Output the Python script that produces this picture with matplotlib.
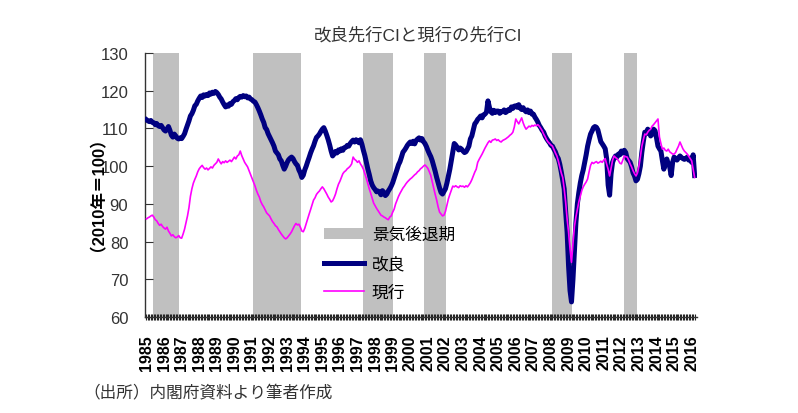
import matplotlib
matplotlib.use("Agg")
import matplotlib.pyplot as plt
from matplotlib.patches import Patch
from matplotlib.lines import Line2D
import numpy as np

plt.rcParams['font.family'] = ['Liberation Sans', 'Noto Sans CJK JP', 'DejaVu Sans']

# monthly values, 1985-01 .. 2016-03
kairyo = [
    112.3, 112.0, 111.8, 112.1, 111.6, 111.5, 111.0, 111.3, 110.7, 110.5, 110.8, 110.2,  # 1985
    109.6, 109.3, 109.8, 110.5, 109.5, 108.2, 107.7, 108.5, 108.0, 107.4, 107.2, 107.5,  # 1986
    107.3, 107.9, 108.6, 109.8, 110.9, 112.0, 113.3, 113.9, 114.8, 116.0, 116.4, 117.3,  # 1987
    118.0, 118.6, 118.2, 118.9, 118.6, 119.0, 118.7, 119.4, 119.1, 119.6, 119.3, 119.8,  # 1988
    119.5, 119.0, 118.3, 117.8, 117.0, 116.3, 115.7, 116.2, 115.9, 116.6, 116.4, 117.1,  # 1989
    117.4, 117.9, 117.6, 118.2, 118.5, 118.3, 118.7, 118.4, 118.6, 118.1, 118.3, 117.8,  # 1990
    117.6, 117.2, 117.0, 116.3, 115.5, 114.6, 113.6, 112.5, 111.6, 110.2, 109.7, 108.6,  # 1991
    107.8, 107.0, 106.2, 105.3, 104.0, 103.5, 103.0, 101.9, 101.4, 100.2, 99.2, 100.0,   # 1992
    101.0, 101.7, 102.1, 102.4, 102.0, 101.2, 100.6, 100.2, 99.0, 98.2, 97.0, 97.6,      # 1993
    99.0, 100.0, 101.2, 102.3, 103.5, 104.5, 105.4, 106.6, 107.6, 108.0, 108.5, 109.2,   # 1994
    109.8, 110.2, 109.3, 108.2, 107.0, 105.6, 104.0, 102.7, 103.2, 103.9, 103.5, 104.3,  # 1995
    104.0, 104.6, 104.2, 104.9, 105.0, 105.5, 105.3, 106.0, 106.5, 106.9, 106.4, 107.0,  # 1996
    106.6, 106.2, 107.0, 105.8, 104.2, 102.8, 101.0, 99.3, 97.8, 96.1, 95.0, 94.3,       # 1997
    93.8, 93.2, 93.4, 93.1, 92.4, 93.5, 93.0, 92.2, 92.6, 93.4, 94.0, 94.7,              # 1998
    95.6, 96.8, 98.0, 99.2, 100.4, 101.2, 102.4, 103.7, 104.2, 104.8, 105.5, 106.0,      # 1999
    106.4, 106.0, 106.6, 105.9, 106.8, 107.2, 107.5, 106.9, 107.3, 106.5, 106.0, 105.2,  # 2000
    104.2, 103.3, 102.5, 101.4, 100.0, 98.6, 97.0, 95.6, 94.2, 93.0, 92.6, 93.3,         # 2001
    94.0, 95.5, 97.3, 99.2, 101.5, 103.8, 106.0, 105.6, 105.0, 104.3, 104.8, 104.5,      # 2002
    104.0, 103.6, 103.8, 104.5, 105.3, 107.2, 108.0, 109.6, 111.2, 111.7, 112.4, 112.8,  # 2003
    113.3, 112.8, 113.6, 113.8, 114.3, 117.3, 115.6, 114.4, 114.0, 114.8, 114.2, 114.6,  # 2004
    114.6, 114.0, 114.5, 114.4, 114.9, 114.2, 114.5, 115.0, 114.8, 115.7, 115.3, 115.9,  # 2005
    116.0, 115.6, 116.3, 115.4, 115.0, 115.5, 114.8, 114.4, 114.9, 114.2, 114.6, 113.8,  # 2006
    113.8, 113.0, 112.4, 111.7, 110.8, 110.2, 109.5, 109.0, 108.0, 107.3, 106.7, 106.2,  # 2007
    105.5, 105.3, 104.5, 103.8, 102.7, 102.0, 100.5, 98.5, 96.3, 94.0, 88.0, 82.5,       # 2008
    73.5, 67.0, 64.0, 70.0, 77.5, 85.0, 90.0, 93.0, 95.5, 97.5, 99.0, 101.0,             # 2009
    103.0, 105.3, 107.0, 108.5, 109.3, 110.2, 110.5, 110.3, 109.6, 108.0, 106.5, 105.9,  # 2010
    105.3, 104.6, 101.9, 95.0, 92.3, 98.0, 101.0, 102.0, 102.7, 102.4, 103.2, 103.0,     # 2011
    104.0, 103.5, 104.2, 103.6, 102.0, 101.5, 101.0, 99.8, 98.2, 97.4, 96.1, 96.5,       # 2012
    98.0, 100.0, 103.7, 106.5, 109.0, 108.6, 109.8, 109.3, 108.0, 108.5, 109.8, 109.4,   # 2013
    107.5, 105.3, 104.6, 104.0, 101.5, 99.2, 100.5, 101.9, 100.6, 99.8, 97.5, 101.0,     # 2014
    102.4, 102.0, 101.6, 102.2, 102.7, 102.3, 102.0, 101.8, 102.0, 102.4, 101.6, 102.0,  # 2015
    101.0, 103.0, 97.5,                                                                  # 2016
]

genko = [
    86.0, 86.3, 86.5, 86.8, 87.0, 86.5, 85.8, 85.5, 84.8, 84.3, 84.6, 84.0,              # 1985
    83.6, 83.3, 83.8, 82.8, 82.2, 81.5, 81.8, 81.3, 81.0, 81.2, 81.6, 81.0,              # 1986
    80.9, 82.0, 83.3, 85.0, 86.8, 89.0, 92.0, 94.0, 95.5, 96.5, 97.4, 98.5,              # 1987
    99.3, 99.8, 100.2, 99.6, 99.2, 99.5, 99.0, 99.4, 99.8, 99.5, 100.2, 100.6,           # 1988
    101.0, 101.9, 101.2, 100.6, 101.2, 100.9, 101.4, 101.0, 101.3, 101.6, 101.2, 101.8,  # 1989
    102.4, 101.9, 102.7, 103.0, 104.0, 102.8, 101.9, 101.0, 100.4, 99.8, 98.8, 97.8,     # 1990
    96.8, 95.8, 94.8, 93.6, 92.6, 91.8, 90.6, 89.8, 89.2, 88.4, 87.6, 87.2,              # 1991
    86.8, 86.0, 85.3, 84.8, 84.2, 83.9, 83.2, 82.6, 82.0, 81.5, 81.0, 80.7,              # 1992
    81.0, 81.5, 82.0, 82.6, 83.4, 84.2, 84.8, 84.4, 84.6, 83.8, 82.8, 82.6,              # 1993
    83.5, 84.8, 86.0, 87.3, 88.5, 89.8, 91.0, 91.6, 92.5, 93.0, 93.4, 94.0,              # 1994
    94.5, 94.0, 93.3, 92.6, 91.8, 91.2, 90.5, 90.8, 91.6, 92.6, 94.0, 95.2,              # 1995
    96.0, 97.0, 98.0, 98.5, 98.8, 99.3, 99.6, 100.0, 100.6, 102.4, 101.8, 101.5,         # 1996
    101.0, 101.4, 100.6, 100.0, 99.2, 98.0, 96.8, 95.4, 94.0, 92.8, 91.5, 90.2,          # 1997
    89.5, 88.8, 88.2, 87.6, 87.0, 86.8, 86.5, 86.3, 86.0, 85.8, 86.5, 86.8,              # 1998
    87.8, 88.6, 90.0, 91.0, 92.0, 92.8, 93.5, 94.2, 94.7, 95.3, 95.8, 96.2,              # 1999
    96.6, 96.9, 97.3, 97.7, 98.0, 98.5, 98.8, 99.3, 99.6, 100.0, 100.3, 99.9,            # 2000
    99.4, 98.5, 97.5, 95.8, 94.0, 92.5, 91.0, 89.2, 87.8, 87.3, 86.8, 87.0,              # 2001
    88.0, 89.6, 91.3, 92.5, 93.6, 94.7, 94.5, 94.8, 94.5, 94.3, 94.8, 94.6,              # 2002
    94.7, 94.4, 94.8, 94.5, 95.0, 95.6, 96.4, 97.4, 98.4, 99.2, 101.0, 101.8,            # 2003
    102.5, 103.2, 104.0, 104.8, 105.5, 106.2, 106.7, 106.3, 106.9, 107.0, 107.2, 106.8,  # 2004
    107.0, 106.6, 106.4, 106.8, 107.0, 107.2, 107.5, 107.8, 108.2, 108.5, 109.0, 110.4,  # 2005
    112.5, 111.8, 111.2, 112.0, 112.8, 111.5, 110.5, 109.8, 110.2, 110.6, 110.4, 110.8,  # 2006
    110.6, 110.9, 110.7, 111.0, 110.6, 110.0, 109.4, 108.5, 107.8, 107.0, 106.4, 106.0,  # 2007
    105.6, 105.3, 104.4, 103.5, 102.7, 101.4, 99.8, 98.2, 97.0, 94.0, 90.5, 86.0,        # 2008
    82.5, 78.0, 74.5, 79.5, 84.0, 86.5, 88.5, 90.5, 92.0, 93.5, 94.5, 95.2,              # 2009
    95.8, 96.6, 98.5, 100.2, 101.0, 100.7, 101.0, 101.2, 100.8, 101.0, 101.3, 101.0,     # 2010
    101.6, 102.0, 100.5, 99.2, 97.4, 99.5, 101.5, 102.7, 102.3, 102.0, 101.5, 100.8,     # 2011
    100.6, 101.6, 102.7, 102.5, 102.4, 101.6, 100.6, 99.8, 98.8, 98.0, 97.4, 98.2,       # 2012
    100.0, 102.5, 105.3, 107.0, 108.5, 108.3, 109.0, 109.5, 109.8, 110.6, 111.0, 111.5,  # 2013
    112.0, 112.5, 107.7, 106.0, 104.5, 104.8, 104.2, 104.0, 104.5, 103.8, 103.5, 103.2,  # 2014
    103.2, 103.6, 104.5, 105.3, 106.4, 105.5, 104.6, 104.0, 103.6, 103.2, 102.6, 102.0,  # 2015
    101.4, 99.2, 97.0,                                                                   # 2016
]

# recessions (start, end) as (year, month)
recessions = [((1985, 6), (1986, 11)), ((1991, 2), (1993, 10)), ((1997, 5), (1999, 1)),
              ((2000, 11), (2002, 1)), ((2008, 2), (2009, 3)), ((2012, 3), (2012, 11))]

years = list(range(1985, 2017))

def midx(y, m):
    return (y - 1985) * 12 + (m - 1)

x = np.arange(len(kairyo))

fig = plt.figure(figsize=(7.98, 4.14), dpi=100)
ax = fig.add_axes([0.1817, 0.2319, 0.6915, 0.6377])

for (s, e) in recessions:
    ax.axvspan(midx(*s) - 0.5, midx(*e) + 0.5, color='#c0c0c0', lw=0, zorder=1)

ax.plot(x, kairyo, color='#000080', lw=3.6, zorder=3, solid_joinstyle='round')
ax.plot(x, genko, color='#ff00ff', lw=1.2, zorder=4)

ax.set_xlim(-1, len(kairyo) + 0.5)
ax.set_ylim(60, 130)
ax.set_yticks(range(60, 131, 10))
ax.set_xticks([midx(y, 1) for y in years])
ax.set_xticklabels([str(y) for y in years], rotation=90, fontsize=11.5, fontweight='bold')
ax.set_xticks(np.arange(len(kairyo)), minor=True)
ax.tick_params(axis='x', which='both', direction='inout', length=5, width=0.8, pad=10, colors='#222222')
ax.tick_params(axis='y', direction='in', length=6, width=0.8, pad=12, labelsize=12, colors='#333333')
ax.tick_params(axis='x', labelcolor='black')

for sp in ['top', 'right']:
    ax.spines[sp].set_visible(False)
for sp in ['left', 'bottom']:
    ax.spines[sp].set_color('#333333')
    ax.spines[sp].set_linewidth(1.0)

ax.set_ylabel('（2010年＝100）', fontsize=12, fontweight='bold', labelpad=2)

fig.text(0.524, 0.915, '改良先行CIと現行の先行CI', ha='center', va='center', fontsize=12.5, color='#333333')
fig.text(0.104, 0.05, '（出所）内閣府資料より筆者作成', ha='left', va='center', fontsize=12, color='#333333')

handles = [Patch(facecolor='#c0c0c0', edgecolor='none'),
           Line2D([], [], color='#000080', lw=3.6),
           Line2D([], [], color='#ff00ff', lw=1.2)]
labels = ['景気後退期', '改良', '現行']
ax.legend(handles, labels, loc='upper left', bbox_to_anchor=(0.395, 0.47),
          bbox_transform=fig.transFigure, frameon=False, fontsize=12,
          handlelength=2.4, handleheight=0.6, handletextpad=0.5, labelspacing=0.8, borderpad=0)

fig.savefig('out.png', dpi=100)
